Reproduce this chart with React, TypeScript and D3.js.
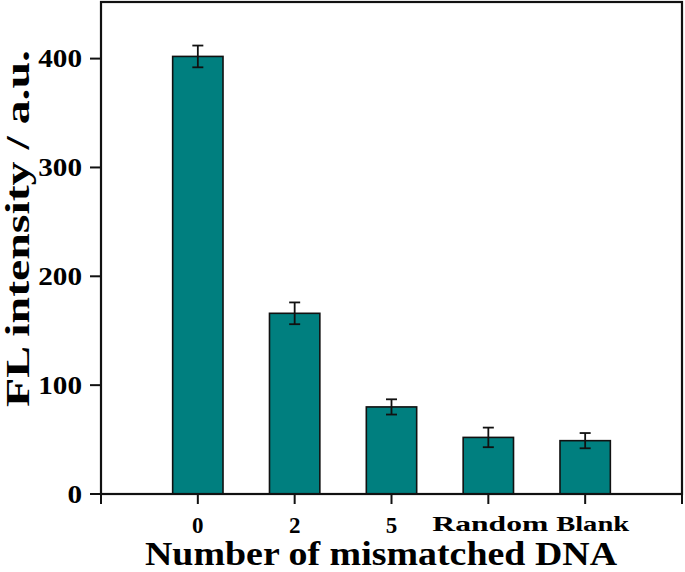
import React from "react";
import * as d3 from "d3";

const width = 685;
const height = 572;
const margin = { top: 2, right: 3, bottom: 78, left: 101 };

// data
const categories = ["0", "2", "5", "Random", "Blank"];
const values = [402, 166, 80, 52, 49];
const errors = [10, 10, 7, 9, 7];
const yTicks = [0, 100, 200, 300, 400];

const fill = "#007f7f";
const font = "'Liberation Serif', 'Times New Roman', serif";

export default function App() {
  const x0 = margin.left;
  const x1 = width - margin.right;
  const y0 = height - margin.bottom;
  const y1 = margin.top;

  // categories sit at 1..5 on a 0..6 linear axis
  const xScale = d3.scaleLinear().domain([0, categories.length + 1]).range([x0, x1]);
  const yScale = d3.scaleLinear().domain([0, 452]).range([y0, y1]);
  const barW = (xScale(1) - xScale(0)) * 0.52;
  const cap = 5.5;

  // the word labels are drawn wide in the picture: [length, shift from tick]
  const wordLabel: Record<string, [number, number] | undefined> = {
    Random: [116, -56],
    Blank: [73, -29]
  };

  return (
    <div style={{ position: "absolute", left: 0, top: 0 }}>
      <svg width={width} height={height} style={{ display: "block", background: "#fff" }}>
        {/* bars */}
        {values.map((v, i) => {
          const cx = xScale(i + 1);
          return (
            <rect
              key={"b" + i}
              x={cx - barW / 2}
              y={yScale(v)}
              width={barW}
              height={y0 - yScale(v)}
              fill={fill}
              stroke="#111"
              strokeWidth={1.6}
            />
          );
        })}

        {/* error bars */}
        {values.map((v, i) => {
          const cx = xScale(i + 1);
          const hi = yScale(v + errors[i]);
          const lo = yScale(v - errors[i]);
          return (
            <g key={"e" + i} stroke="#111" strokeWidth={1.8}>
              <line x1={cx} x2={cx} y1={hi} y2={lo} />
              <line x1={cx - cap} x2={cx + cap} y1={hi} y2={hi} />
              <line x1={cx - cap} x2={cx + cap} y1={lo} y2={lo} />
            </g>
          );
        })}

        {/* frame */}
        <rect x={x0} y={y1} width={x1 - x0} height={y0 - y1} fill="none" stroke="#111" strokeWidth={2.2} />

        {/* y axis ticks + labels (drawn a little wide, like the picture) */}
        {yTicks.map(t => {
          const label = String(t);
          const len = label.length * 14.6;
          return (
            <g key={"y" + t}>
              <line x1={x0 - 11} x2={x0} y1={yScale(t)} y2={yScale(t)} stroke="#111" strokeWidth={2} />
              <text
                x={82 - len}
                y={yScale(t) + 8.5}
                fontFamily={font}
                fontWeight="bold"
                fontSize={25}
                textLength={len}
                lengthAdjust="spacingAndGlyphs"
              >
                {label}
              </text>
            </g>
          );
        })}

        {/* x axis ticks: both ends and each category */}
        {[0, ...categories.map((_, i) => i + 1), categories.length + 1].map(p => (
          <line key={"xt" + p} x1={xScale(p)} x2={xScale(p)} y1={y0} y2={y0 + 10} stroke="#111" strokeWidth={2} />
        ))}

        {categories.map((c, i) => {
          const w = wordLabel[c];
          const cx = xScale(i + 1);
          if (w) {
            return (
              <text
                key={"xl" + i}
                x={cx + w[1]}
                y={531}
                fontFamily={font}
                fontWeight="bold"
                fontSize={21}
                textLength={w[0]}
                lengthAdjust="spacingAndGlyphs"
              >
                {c}
              </text>
            );
          }
          return (
            <text key={"xl" + i} x={cx} y={533} textAnchor="middle" fontFamily={font} fontWeight="bold" fontSize={23}>
              {c}
            </text>
          );
        })}

        {/* axis titles */}
        <text
          x={145}
          y={565}
          fontFamily={font}
          fontWeight="bold"
          fontSize={33}
          textLength={472}
          lengthAdjust="spacingAndGlyphs"
        >
          Number of mismatched DNA
        </text>
        <text
          transform="translate(29,407) rotate(-90)"
          x={0}
          y={0}
          fontFamily={font}
          fontWeight="bold"
          fontSize={33}
          textLength={357}
          lengthAdjust="spacingAndGlyphs"
        >
          FL intensity / a.u.
        </text>
      </svg>
    </div>
  );
}
